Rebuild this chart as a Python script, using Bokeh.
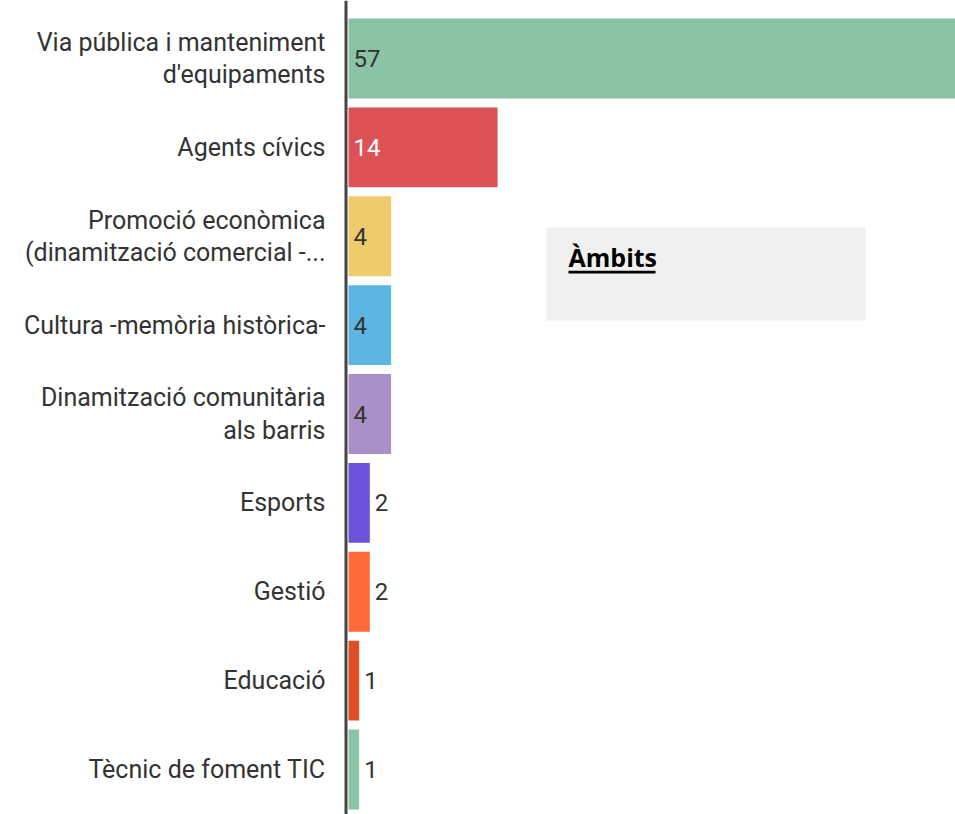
from bokeh.plotting import figure
from bokeh.models import Range1d, LabelSet, ColumnDataSource, BoxAnnotation, Label, Span, FixedTicker
from bokeh.core.properties import value
from bokeh.embed import file_html
from bokeh.resources import INLINE

categories = [
    "Via pública i manteniment\nd'equipaments",
    "Agents cívics",
    "Promoció econòmica\n(dinamització comercial -...",
    "Cultura -memòria històrica-",
    "Dinamització comunitària\nals barris",
    "Esports",
    "Gestió",
    "Educació",
    "Tècnic de foment TIC",
]
values = [57, 14, 4, 4, 4, 2, 2, 1, 1]
colors = ["#8cc2a6", "#dc5256", "#eecb6c", "#5db5e2", "#a991c7",
          "#6b52d8", "#ff6a3a", "#e14e24", "#8cc2a6"]
title_text = "Àmbits"


def luminance(h):
    r, g, b = int(h[1:3], 16), int(h[3:5], 16), int(h[5:7], 16)
    return 0.299 * r + 0.587 * g + 0.114 * b


ys = list(range(len(categories)))
inside = [v >= 4 for v in values]
src = ColumnDataSource(dict(
    y=ys,
    value=values,
    color=colors,
    lx=[0 if ins else v for ins, v in zip(inside, values)],
    vtext=[str(v) for v in values],
    vcolor=["#ffffff" if (ins and luminance(c) < 140) else "#333333"
            for ins, c in zip(inside, colors)],
))

p = figure(width=955, height=814, output_backend="svg", toolbar_location=None,
           x_range=Range1d(-0.47, 57), y_range=Range1d(8.5063, -0.6526),
           min_border_left=343, min_border_right=0, min_border_top=0, min_border_bottom=0)
p.xaxis.visible = False
p.xgrid.visible = False
p.ygrid.visible = False
p.outline_line_color = None
p.background_fill_color = "white"
p.border_fill_color = "white"

ax = p.yaxis[0]
ax.ticker = FixedTicker(ticks=ys)
ax.major_label_overrides = {i: c for i, c in zip(ys, categories)}
ax.axis_line_color = None
ax.major_tick_line_color = None
ax.minor_tick_line_color = None
ax.major_tick_out = 0
ax.major_tick_in = 0
ax.major_label_standoff = 18
ax.major_label_text_font = "Roboto"
ax.major_label_text_font_size = "25px"
ax.major_label_text_color = "#333333"
ax.major_label_text_line_height = 1.12

p.hbar(y="y", left=0, right="value", height=0.9, fill_color="color", line_color=None, source=src)

p.add_layout(Span(location=-0.235, dimension="height", line_color="#444444", line_width=3))

p.add_layout(LabelSet(x="lx", y="y", text="vtext", source=src, x_offset=5,
                      text_align="left", text_baseline="middle",
                      text_font=value("Roboto"), text_font_size="24px", text_color="vcolor"))

p.add_layout(BoxAnnotation(left=18.59, right=48.55, top=1.9016, bottom=2.948,
                           fill_color="#f0f0f0", fill_alpha=1, line_color=None, level="underlay"))
p.add_layout(Label(x=20.66, y=2.239, text=title_text, text_align="left",
                   text_baseline="alphabetic", text_font="Open Sans",
                   text_font_style="bold", text_font_size="25px", text_color="#000000"))
p.segment(x0=[20.66], x1=[28.83], y0=[2.404], y1=[2.404], line_color="#000000", line_width=2.6)

open("out.html", "w").write(file_html(p, INLINE))
